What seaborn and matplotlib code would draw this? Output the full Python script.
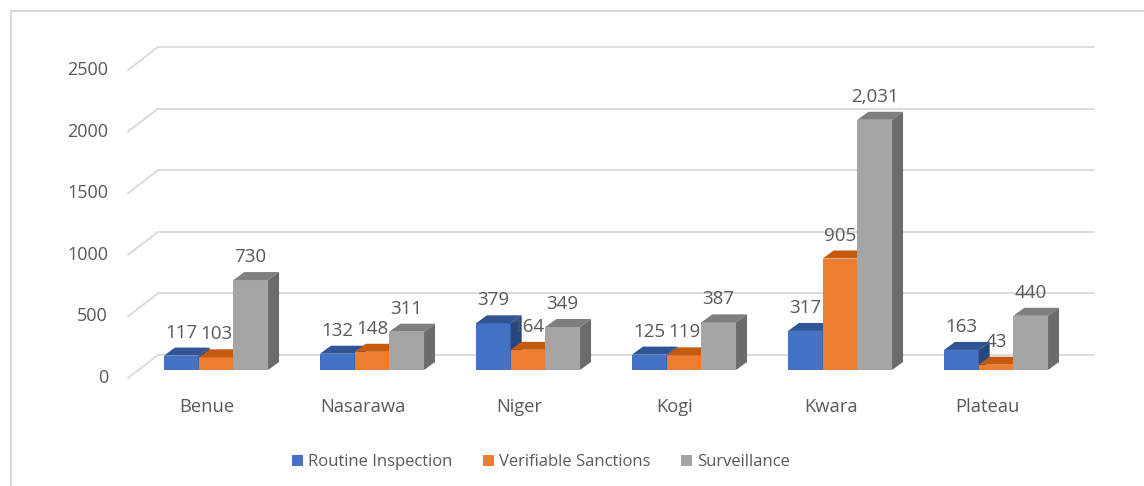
import numpy as np
import pandas as pd
import matplotlib
matplotlib.use("Agg")
import matplotlib.pyplot as plt
import matplotlib.transforms as mtransforms
from matplotlib.patches import Polygon, Patch
from matplotlib.lines import Line2D
import seaborn as sns

# ---- data ----
states = ["Benue", "Nasarawa", "Niger", "Kogi", "Kwara", "Plateau"]
series = ["Routine Inspection", "Verifiable Sanctions", "Surveillance"]
routine = [117, 132, 379, 125, 317, 163]
sanctions = [103, 148, 164, 119, 905, 43]
surveillance = [730, 311, 349, 387, 2031, 440]
yticks = [0, 500, 1000, 1500, 2000, 2500]

front_cols = ["#4472C4", "#ED7D31", "#A5A5A5"]
top_cols = ["#2F5597", "#C55A11", "#7F7F7F"]
side_cols = ["#25467E", "#A84C0E", "#6B6B6B"]
text_col = "#595959"
grid_col = "#D9D9D9"

df = pd.DataFrame({
    "state": states * 3,
    "series": [series[0]] * 6 + [series[1]] * 6 + [series[2]] * 6,
    "value": routine + sanctions + surveillance,
})

sns.set_theme(style="white")
plt.rcParams["font.family"] = ["Open Sans", "DejaVu Sans"]

DPI = 100
W, H = 1144, 486
fig = plt.figure(figsize=(W / DPI, H / DPI), dpi=DPI)
fig.patch.set_facecolor("white")

# axes = the plane of the bars' front faces
px_per_unit = 0.1232
ymax = 2600
ax_left, ax_bottom = 138, H - 370
ax_w, ax_h = 936, ymax * px_per_unit
ax = fig.add_axes([ax_left / W, ax_bottom / H, ax_w / W, ax_h / H])
ax.set_facecolor("none")

sns.barplot(data=df, x="state", y="value", hue="series", order=states,
            hue_order=series, palette=front_cols, width=0.667,
            saturation=1, dodge=True, ax=ax, legend=False)

ax.set_xlim(-0.5, 5.5)
ax.set_ylim(0, ymax)
for s in ax.spines.values():
    s.set_visible(False)
ax.set_xticks([])
ax.set_yticks([])
ax.set_xlabel("")
ax.set_ylabel("")

def off(dx_px, dy_px):
    return ax.transData + mtransforms.ScaledTranslation(dx_px / DPI, dy_px / DPI, fig.dpi_scale_trans)

# back wall gridlines and left diagonals
back_dx, back_dy = 20, 15
front_dx, front_dy = -10, -8
for v in yticks:
    ax.plot([-0.5, 5.5], [v, v], color=grid_col, lw=1.3, transform=off(back_dx, back_dy),
            clip_on=False, zorder=0.5)
    p0 = off(front_dx, front_dy).transform((-0.5, v))
    p1 = off(back_dx, back_dy).transform((-0.5, v))
    fig.add_artist(Line2D([p0[0] / W, p1[0] / W], [p0[1] / H, p1[1] / H],
                          color=grid_col, lw=1.3, transform=fig.transFigure, zorder=0.5))
    ax.text(-0.5, v, str(v), transform=off(-30, -8), ha="right", va="center",
            fontsize=13, color=text_col)

# 3D faces for bars
ddx = 11 / (ax_w / 6.0)        # depth in x data units
ddy = 8 / px_per_unit          # depth in y data units
for j, cont in enumerate(ax.containers):
    for bar in cont:
        x0 = bar.get_x()
        w = bar.get_width()
        h = bar.get_height()
        x1 = x0 + w
        z = 3 + j
        bar.set_zorder(z)
        bar.set_edgecolor("none")
        top = Polygon([(x0, h), (x1, h), (x1 + ddx, h + ddy), (x0 + ddx, h + ddy)],
                      closed=True, facecolor=top_cols[j], edgecolor="none",
                      zorder=z, clip_on=False)
        side = Polygon([(x1, 0), (x1 + ddx, ddy), (x1 + ddx, h + ddy), (x1, h)],
                       closed=True, facecolor=side_cols[j], edgecolor="none",
                       zorder=z, clip_on=False)
        ax.add_patch(side)
        ax.add_patch(top)
        lab = f"{int(round(h)):,}"
        ax.annotate(lab, (x0 + w / 2, h), xytext=(0, 16.5), textcoords="offset points",
                    ha="center", va="center", fontsize=13.5, color=text_col,
                    zorder=20, annotation_clip=False)

# category labels on front edge
for i, s in enumerate(states):
    ax.text(i, 0, s, transform=off(-9, -37), ha="center", va="center",
            fontsize=13.2, color=text_col)

# legend
handles = [Patch(facecolor=c, edgecolor="none") for c in front_cols]
fig.legend(handles, series, loc="center", bbox_to_anchor=(0.473, 1 - 462 / H),
           ncol=3, frameon=False, fontsize=12, handlelength=0.66, handleheight=0.66,
           handletextpad=0.3, columnspacing=1.85, labelcolor=text_col)

# chart frame (left and top border)
fig.add_artist(Line2D([11 / W, 11 / W], [0, 1 - 11 / H], color=grid_col, lw=1.5,
                      transform=fig.transFigure))
fig.add_artist(Line2D([11 / W, 1], [1 - 11 / H, 1 - 11 / H], color=grid_col, lw=1.5,
                      transform=fig.transFigure))

fig.savefig("out.png", dpi=DPI)
